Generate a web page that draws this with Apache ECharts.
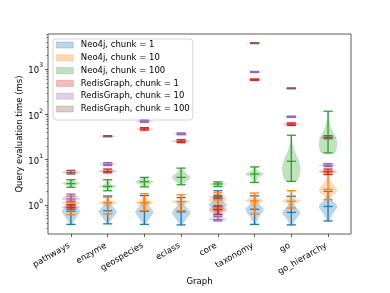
<!DOCTYPE html>
<html><head><meta charset="utf-8">
<script src="https://cdn.jsdelivr.net/npm/echarts@6/dist/echarts.min.js"></script>
<style>html,body{margin:0;padding:0;background:#fff}#c{width:390px;height:293px}</style>
</head><body><div id="c"></div>
<script>
const categories = ['pathways','enzyme','geospecies','eclass','core','taxonomy','go','go_hierarchy'];
const seriesNames = ['Neo4j, chunk = 1','Neo4j, chunk = 10','Neo4j, chunk = 100','RedisGraph, chunk = 1','RedisGraph, chunk = 10','RedisGraph, chunk = 100'];
const seriesColors = ['#1f77b4','#ff7f0e','#2ca02c','#d62728','#9467bd','#8c564b'];
const majorTicks = [1, 10, 100, 1000];
const majorTickExponents = ['0', '1', '2', '3'];
const minorTicks = [0.3,0.4,0.5,0.6,0.7,0.8,0.9,2,3,4,5,6,7,8,9,20,30,40,50,60,70,80,90,200,300,400,500,600,700,800,900,2000,3000,4000,5000,6000];

// [min, median, max] per category (null = no data)
const neo4jChunk1 = [[0.37,0.72,1.0],[0.38,0.74,1.5],[0.37,0.72,1.6],[0.36,0.7,1.45],[0.62,0.95,2.05],[0.37,0.8,1.58],[0.36,0.68,1.55],[0.44,0.92,1.98]];
const neo4jChunk10 = [[0.61,1.12,1.55],[0.63,1.12,1.6],[0.74,1.12,1.76],[0.74,1.18,1.67],[0.85,1.3,1.85],[0.63,1.23,1.82],[0.85,1.2,2.05],[1.3,2.2,5.3]];
const neo4jChunk100 = [[2.45,2.95,3.6],[2.05,2.55,3.59],[2.5,3.25,4.05],[2.78,4.05,6.5],[2.55,2.9,3.22],[3.13,4.8,6.9],[3.3,9.2,34.7],[14.1,31,118]];
const redisChunk1 = [[0.8,0.88,1.0],[5.1,5.5,6.2],[45,48,51],[23.8,25.5,27.8],[0.6,0.78,0.95],[570,590,610],[57,61,65],[4.7,5.5,6.2]];
const redisChunk10 = [[1.2,1.35,1.73],[7.4,7.9,8.6],[67,71,75],[35.5,37.3,39],[0.44,0.47,0.55],[850,872,895],[86,89,92],[7.0,7.5,8.2]];
const redisChunk100 = [[4.8,5.2,5.8],[32,33,34],null,null,[1.4,1.5,1.62],[3700,3780,3860],[370,378,386],[29,31,34]];

// violin outlines: [value, relative half-width] per category
const neo4jChunk1Shape = [
  [[0.37,0.1],[0.5,0.5],[0.7,1],[0.85,0.75],[1.0,0.25]],
  [[0.38,0.1],[0.5,0.5],[0.7,1],[0.9,0.6],[1.2,0.2],[1.5,0.05]],
  [[0.37,0.1],[0.5,0.55],[0.7,1],[0.9,0.6],[1.2,0.2],[1.6,0.05]],
  [[0.36,0.1],[0.5,0.6],[0.68,1],[0.9,0.55],[1.2,0.15],[1.45,0.05]],
  [[0.62,0.1],[0.8,0.6],[1.0,1],[1.2,0.6],[1.6,0.15],[2.05,0.05]],
  [[0.37,0.1],[0.55,0.5],[0.8,1],[1.05,0.5],[1.35,0.15],[1.58,0.05]],
  [[0.36,0.1],[0.5,0.55],[0.68,1],[0.9,0.5],[1.2,0.15],[1.55,0.05]],
  [[0.44,0.1],[0.65,0.55],[0.92,1],[1.25,0.5],[1.6,0.15],[1.98,0.05]]
];
const neo4jChunk10Shape = [
  [[0.61,0.05],[0.9,0.2],[1.1,1],[1.3,0.3],[1.55,0.05]],
  [[0.63,0.05],[0.9,0.2],[1.12,1],[1.3,0.3],[1.6,0.05]],
  [[0.74,0.05],[0.95,0.3],[1.12,1],[1.35,0.3],[1.76,0.05]],
  [[0.74,0.05],[1.0,0.3],[1.18,1],[1.35,0.3],[1.67,0.05]],
  [[0.85,0.1],[1.1,0.5],[1.3,1],[1.5,0.5],[1.85,0.1]],
  [[0.63,0.05],[1.0,0.3],[1.23,1],[1.45,0.3],[1.82,0.05]],
  [[0.85,0.1],[1.05,0.4],[1.2,1],[1.45,0.35],[2.05,0.05]],
  [[1.3,0.05],[1.6,0.5],[2.1,1],[2.8,0.6],[3.8,0.2],[5.3,0.05]]
];
const neo4jChunk100Shape = [
  [[2.45,0.1],[2.7,0.5],[2.95,1],[3.25,0.5],[3.6,0.1]],
  [[2.05,0.05],[2.35,0.4],[2.55,1],[2.9,0.35],[3.59,0.05]],
  [[2.5,0.1],[2.9,0.6],[3.25,1],[3.6,0.6],[4.05,0.1]],
  [[2.78,0.1],[3.3,0.6],[4.05,1],[5.0,0.55],[6.5,0.05]],
  [[2.55,0.1],[2.75,0.6],[2.9,1],[3.05,0.6],[3.22,0.1]],
  [[3.13,0.05],[4.0,0.4],[4.8,1],[5.6,0.4],[6.9,0.05]],
  [[3.3,0.6],[4.5,0.9],[6.5,1],[10,0.8],[15,0.4],[25,0.12],[34.7,0.05]],
  [[14.1,0.75],[18,0.95],[24,1],[33,0.8],[50,0.35],[80,0.12],[118,0.05]]
];

function rgba(hex, a) {
  const n = parseInt(hex.slice(1), 16);
  return 'rgba(' + (n >> 16 & 255) + ',' + (n >> 8 & 255) + ',' + (n & 255) + ',' + a + ')';
}

function makeSeries(idx, stats, shapes) {
  const color = seriesColors[idx];
  const data = [];
  stats.forEach((s, i) => { if (s) data.push([i + 1, s[0], s[1], s[2], i]); });
  return {
    type: 'custom', name: seriesNames[idx], xAxisIndex: 0, yAxisIndex: 0,
    itemStyle: { color: rgba(color, 0.3) },
    encode: { x: 0, y: [1, 2, 3] },
    z: 2 + idx,
    silent: true,
    data: data,
    renderItem: function (params, api) {
      const x = api.value(0), mn = api.value(1), md = api.value(2), mx = api.value(3), ci = api.value(4);
      const cx = api.coord([x, md])[0];
      const unit = api.coord([x + 1, md])[0] - cx;
      const Y = v => api.coord([x, v])[1];
      const shape = (shapes && shapes[ci]) || [[mn, 0.15], [md, 1], [mx, 0.15]];
      const hw = 0.25 * unit;
      const right = shape.map(p => [cx + p[1] * hw, Y(p[0])]);
      const left = shape.slice().reverse().map(p => [cx - p[1] * hw, Y(p[0])]);
      const cap = 0.125 * unit;
      const ls = { stroke: color, lineWidth: 1.3 };
      const hline = v => ({ type: 'line', shape: { x1: cx - cap, y1: Y(v), x2: cx + cap, y2: Y(v) }, style: ls });
      return {
        type: 'group', children: [
          { type: 'polygon', shape: { points: right.concat(left), smooth: 0.3 }, style: { fill: rgba(color, 0.3) } },
          { type: 'line', shape: { x1: cx, y1: Y(mn), x2: cx, y2: Y(mx) }, style: ls },
          hline(mn), hline(md), hline(mx)
        ]
      };
    }
  };
}

const font = 'DejaVu Sans';
const yMin = Math.pow(10, -0.645), yMax = Math.pow(10, 3.78);
const chart = echarts.init(document.getElementById('c'), null, { renderer: 'canvas' });
chart.setOption({
  animation: false,
  backgroundColor: '#fff',
  textStyle: { fontFamily: font },
  grid: { left: 48, right: 39, top: 34, bottom: 59, show: true, borderColor: '#333', borderWidth: 0.8, backgroundColor: 'transparent' },
  legend: {
    left: 53, top: 39, orient: 'vertical', itemWidth: 17, itemHeight: 6, itemGap: 2.8,
    padding: [1, 3, 6, 3], backgroundColor: 'rgba(255,255,255,0.8)', borderColor: '#cccccc', borderWidth: 0.8, borderRadius: 3,
    textStyle: { fontSize: 8.5, fontFamily: font, color: '#000', lineHeight: 10, padding: [0, 0, 0, 2.5] },
    selectedMode: false,
    data: seriesNames.map((n, i) => ({ name: n, icon: 'rect', itemStyle: { color: rgba(seriesColors[i], 0.3), borderColor: rgba(seriesColors[i], 0.4), borderWidth: 0.6 } }))
  },
  xAxis: [{
    type: 'value', min: 0.375, max: 8.625,
    axisLine: { show: false }, splitLine: { show: false },
    axisTick: { show: true, customValues: [1, 2, 3, 4, 5, 6, 7, 8], length: 3, lineStyle: { color: '#333', width: 0.8 } },
    axisLabel: { customValues: [1, 2, 3, 4, 5, 6, 7, 8], rotate: 30, margin: 10, fontSize: 8.5, color: '#000', fontFamily: font,
      padding: [0, 2, 0, 0],
      formatter: v => categories[Math.round(v) - 1] },
    name: 'Graph', nameLocation: 'middle', nameGap: 43, nameMoveOverlap: false, nameTextStyle: { fontSize: 8.5, color: '#000', fontFamily: font }
  }],
  yAxis: [{
    type: 'log', min: yMin, max: yMax,
    axisLine: { show: false }, splitLine: { show: false },
    axisTick: { show: true, customValues: majorTicks, length: 3, lineStyle: { color: '#333', width: 0.8 } },
    axisLabel: { customValues: majorTicks, margin: 5, color: '#000', fontFamily: font,
      formatter: v => { const k = majorTicks.findIndex(t => Math.abs(t - v) / t < 1e-6); return k >= 0 ? '{b|10}{s|' + majorTickExponents[k] + '}' : ''; },
      rich: {
        b: { fontSize: 8.5, fontFamily: font, color: '#000', lineHeight: 13, verticalAlign: 'bottom' },
        s: { fontSize: 6, fontFamily: font, color: '#000', lineHeight: 7, verticalAlign: 'top' }
      } },
    name: 'Query evaluation time (ms)', nameLocation: 'middle', nameGap: 24, nameMoveOverlap: false, nameTextStyle: { fontSize: 8.5, color: '#000', fontFamily: font }
  }, {
    type: 'log', min: yMin, max: yMax, position: 'left',
    axisLine: { show: false }, splitLine: { show: false }, axisLabel: { show: false },
    axisTick: { show: true, customValues: minorTicks, length: 1.7, lineStyle: { color: '#333', width: 0.6 } }
  }],
  series: [
    makeSeries(0, neo4jChunk1, neo4jChunk1Shape),
    makeSeries(1, neo4jChunk10, neo4jChunk10Shape),
    makeSeries(2, neo4jChunk100, neo4jChunk100Shape),
    makeSeries(3, redisChunk1, null),
    makeSeries(4, redisChunk10, null),
    makeSeries(5, redisChunk100, null)
  ]
});
</script></body></html>
